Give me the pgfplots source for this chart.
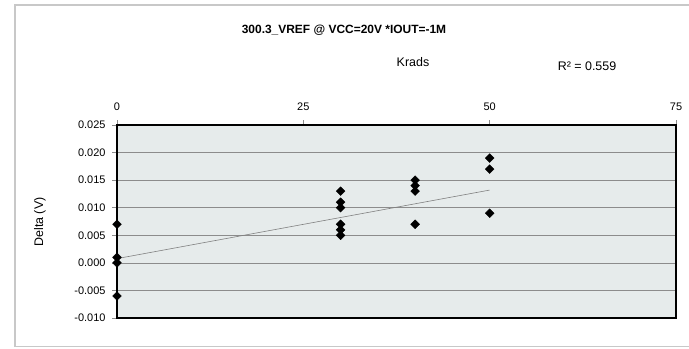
\documentclass[border=0pt]{standalone}
\usepackage{fontspec}
\setmainfont{Liberation Sans}
\usepackage{pgfplots}
\pgfplotsset{compat=1.18}
\definecolor{plotbg}{HTML}{E6EBEB}
\definecolor{gridgray}{HTML}{8C8C8C}
\definecolor{framegray}{HTML}{C8C8C8}

\begin{document}
\begin{tikzpicture}[x=1bp,y=1bp]
\useasboundingbox (0,0) rectangle (689,348);
\draw[framegray, line width=1.2bp] (15,1.5) rectangle (692,343);
\node[font=\fontsize{12}{14}\selectfont\bfseries] at (344,318) {300.3\_VREF @ VCC=20V *IOUT=-1M};
\node[font=\fontsize{12.5}{14}\selectfont] at (413,286) {Krads};
\node[font=\fontsize{12.5}{14}\selectfont] at (587,282) {R² = 0.559};
\node[font=\fontsize{12.5}{14}\selectfont, rotate=90] at (40,126) {Delta (V)};
\begin{axis}[
  at={(117bp,30bp)}, anchor=south west,
  scale only axis, width=559bp, height=193bp,
  xmin=0, xmax=75, ymin=-0.010, ymax=0.025,
  xtick={0,25,50,75}, ytick={-0.010,-0.005,...,0.0251},
  scaled y ticks=false,
  xtick pos=right, xticklabel pos=right,
  tick align=outside, ytick pos=left,
  major tick length=5bp,
  tick style={gridgray, line width=0.6bp},
  axis background/.style={fill=plotbg},
  axis line style={black, line width=1.3bp},
  ymajorgrids, grid style={gridgray, line width=0.7bp},
  ticklabel style={font=\fontsize{11}{13}\selectfont},
  /pgf/number format/assume math mode=true,
  y tick label style={xshift=-3bp, /pgf/number format/fixed, /pgf/number format/fixed zerofill, /pgf/number format/precision=3},
  xticklabel style={yshift=6bp},
  clip=false,
]
\addplot[gray, line width=0.6bp] coordinates {(0,0.00077) (50,0.0132)};
\addplot[only marks, mark=square*, mark size=3.1bp, mark options={fill=black, draw=black, rotate=45}] coordinates {
  (0,0.007) (0,0.001) (0,0.000) (0,-0.006)
  (30,0.013) (30,0.011) (30,0.010) (30,0.007) (30,0.006) (30,0.005)
  (40,0.015) (40,0.014) (40,0.013) (40,0.007)
  (50,0.019) (50,0.017) (50,0.009)
};
\end{axis}
\end{tikzpicture}
\end{document}
